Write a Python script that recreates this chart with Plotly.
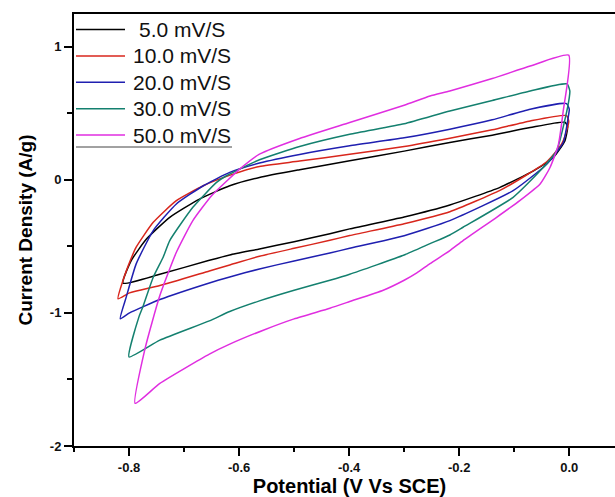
import plotly.graph_objects as go

# ---------------- data ----------------
series_names = ["5.0 mV/S", "10.0 mV/S", "20.0 mV/S", "30.0 mV/S", "50.0 mV/S"]
series_colors = ["#000000", "#d8261c", "#1f1fb0", "#14806f", "#e02ee0"]

x_5 = [-0.811, -0.796, -0.768, -0.726, -0.672, -0.617, -0.563, -0.49, -0.399, -0.3, -0.217, -0.14, -0.071, -0.008,
       -0.003, -0.008, -0.029, -0.065, -0.126, -0.217,
       -0.3, -0.399, -0.435, -0.5, -0.563, -0.617, -0.654, -0.744, -0.811]
y_5 = [-0.777, -0.607, -0.444, -0.282, -0.145, -0.045, 0.017, 0.075, 0.142, 0.215, 0.28, 0.335, 0.392, 0.432,
       0.40, 0.292, 0.167, 0.067, -0.057, -0.19,
       -0.28, -0.369, -0.405, -0.465, -0.52, -0.565, -0.605, -0.71, -0.777]

x_10 = [-0.82, -0.811, -0.797, -0.787, -0.756, -0.714, -0.665, -0.611, -0.563, -0.49, -0.399, -0.3, -0.217, -0.14, -0.071, -0.005,
        -0.001, -0.004, -0.014, -0.041, -0.08, -0.126, -0.217,
        -0.3, -0.399, -0.435, -0.5, -0.563, -0.617, -0.654, -0.744, -0.799, -0.82]
y_10 = [-0.894, -0.757, -0.60, -0.507, -0.32, -0.157, -0.045, 0.042, 0.100, 0.14, 0.192, 0.25, 0.312, 0.375, 0.442, 0.482,
        0.44, 0.38, 0.267, 0.135, 0.03, -0.08, -0.24,
        -0.33, -0.419, -0.455, -0.515, -0.575, -0.64, -0.685, -0.795, -0.85, -0.894]

x_20 = [-0.816, -0.805, -0.787, -0.756, -0.714, -0.665, -0.617, -0.563, -0.49, -0.399, -0.3, -0.217, -0.14, -0.071, -0.005,
        0.0, -0.002, -0.011, -0.041, -0.102, -0.217,
        -0.3, -0.399, -0.435, -0.5, -0.563, -0.617, -0.654, -0.744, -0.799, -0.816]
y_20 = [-1.044, -0.88, -0.632, -0.382, -0.182, -0.045, 0.055, 0.125, 0.19, 0.255, 0.315, 0.38, 0.45, 0.53, 0.572,
        0.53, 0.467, 0.28, 0.117, -0.082, -0.307,
        -0.42, -0.515, -0.55, -0.61, -0.67, -0.73, -0.775, -0.9, -1.0, -1.044]

x_30 = [-0.8, -0.782, -0.775, -0.756, -0.738, -0.726, -0.684, -0.641, -0.623, -0.563, -0.49, -0.399, -0.3, -0.217, -0.14, -0.071, -0.004,
        0.001, 0.0, -0.008, -0.023, -0.053, -0.102, -0.193, -0.217, -0.253,
        -0.3, -0.399, -0.435, -0.5, -0.563, -0.617, -0.654, -0.744, -0.8]
y_30 = [-1.331, -1.03, -0.956, -0.732, -0.582, -0.457, -0.207, -0.02, 0.03, 0.15, 0.25, 0.342, 0.42, 0.517, 0.595, 0.667, 0.72,
        0.667, 0.617, 0.45, 0.217, 0.067, -0.132, -0.357, -0.415, -0.48,
        -0.565, -0.71, -0.755, -0.83, -0.91, -0.99, -1.06, -1.205, -1.331]

x_50 = [-0.789, -0.771, -0.744, -0.714, -0.684, -0.65, -0.62, -0.599, -0.563, -0.49, -0.399, -0.3, -0.253, -0.217, -0.14, -0.071, -0.001,
        -0.011, -0.02, -0.035, -0.053, -0.09, -0.132, -0.193, -0.217, -0.253,
        -0.277, -0.3, -0.338, -0.399, -0.435, -0.5, -0.556, -0.617, -0.654, -0.744, -0.789]
y_50 = [-1.68, -1.27, -0.87, -0.545, -0.307, -0.12, 0.0, 0.08, 0.192, 0.31, 0.43, 0.56, 0.629, 0.667, 0.76, 0.854, 0.936,
        0.517, 0.26, 0.092, -0.032, -0.157, -0.282, -0.457, -0.532, -0.63,
        -0.70, -0.755, -0.83, -0.915, -0.965, -1.045, -1.13, -1.235, -1.31, -1.53, -1.68]

series_x = [x_5, x_10, x_20, x_30, x_50]
series_y = [y_5, y_10, y_20, y_30, y_50]

x_tick_vals = [-0.8, -0.6, -0.4, -0.2, 0.0]
x_tick_text = ["-0.8", "-0.6", "-0.4", "-0.2", "0.0"]
y_tick_vals = [-2, -1, 0, 1]
y_tick_text = ["-2", "-1", "0", "1"]

x_title = "Potential (V Vs SCE)"
y_title = "Current Density (A/g)"

# ---------------- figure ----------------
# The frame's right side runs just past the 615 px window, as in the reference.
W, H = 625, 497
ML, MR, MT, MB = 74, 0, 14, 51
FONT = "Liberation Sans, Arial, Helvetica, sans-serif"

fig = go.Figure()
for name, color, xs, ys in zip(series_names, series_colors, series_x, series_y):
    fig.add_trace(go.Scatter(x=xs, y=ys, mode="lines", name=name,
                             line=dict(color=color, width=1.5, shape="spline", smoothing=0.5),
                             hoverinfo="skip", showlegend=False))

# manual legend (pixel layout -> paper coordinates)
pw, ph = W - ML - MR, H - MT - MB
def px2x(p):
    return (p - ML) / pw
def py2y(p):
    return (H - MB - p) / ph

shapes = []
annotations = []
for i, (name, color) in enumerate(zip(series_names, series_colors)):
    ry = 29.5 + i * 26.4
    shapes.append(dict(type="line", xref="paper", yref="paper",
                       x0=px2x(76), x1=px2x(125), y0=py2y(ry), y1=py2y(ry),
                       line=dict(color=color, width=1.5)))
    annotations.append(dict(xref="paper", yref="paper", x=px2x(182), y=py2y(ry),
                            text=name, showarrow=False, xanchor="center", yanchor="middle",
                            font=dict(family=FONT, size=21, color="#111111")))
shapes.append(dict(type="line", xref="paper", yref="paper",
                   x0=px2x(76), x1=px2x(232), y0=py2y(147), y1=py2y(147),
                   line=dict(color="#444444", width=1)))

axis_common = dict(showline=True, linecolor="black", linewidth=2, ticks="outside",
                   ticklen=8, tickwidth=2, tickcolor="black", showgrid=False, zeroline=False,
                   automargin=False, showspikes=False,
                   tickfont=dict(family=FONT, size=13, color="#111111", weight="bold"))

# 0.0 V sits at x = 569 px, 0.2 V spans 110 px
x_right = (W - MR - 569.3) / 550.0

fig.update_layout(
    width=W, height=H,
    margin=dict(l=ML, r=MR, t=MT, b=MB),
    paper_bgcolor="white", plot_bgcolor="white",
    font=dict(family=FONT, color="black"),
    hovermode=False, dragmode=False,
    shapes=shapes, annotations=annotations,
    xaxis=dict(range=[-0.9, x_right], tickvals=x_tick_vals, ticktext=x_tick_text,
               mirror=True,
               minor=dict(dtick=0.1, tick0=-0.9, ticks="outside", ticklen=4, tickwidth=2, tickcolor="black",
                          showgrid=False),
               title=dict(text=x_title, font=dict(family=FONT, size=20, color="black", weight="bold"), standoff=6),
               **axis_common),
    yaxis=dict(range=[-2, 1.245], tickvals=y_tick_vals, ticktext=y_tick_text, mirror=False,
               minor=dict(dtick=0.5, tick0=-2, ticks="outside", ticklen=5, tickwidth=2, tickcolor="black",
                          showgrid=False),
               ticklabelstandoff=0,
               title=dict(text=y_title, font=dict(family=FONT, size=19, color="black", weight="bold"), standoff=12),
               **axis_common),
)

fig.write_html("out.html", config={"displayModeBar": False, "staticPlot": True},
               post_script="document.body.style.margin='0';document.body.style.overflow='hidden';")
